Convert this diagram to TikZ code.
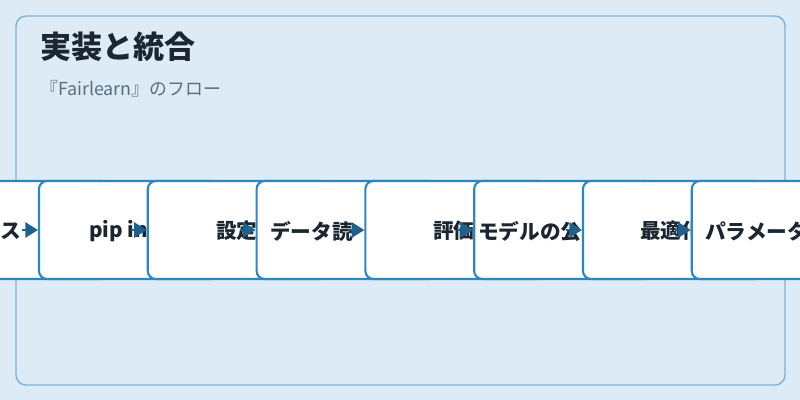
\documentclass[tikz,border=0pt]{standalone}
\usepackage{fontspec}
\setmainfont{Noto Sans CJK JP}
\usetikzlibrary{arrows.meta}
\definecolor{pagebg}{HTML}{DCEBF6}
\definecolor{framecol}{HTML}{7FB3D5}
\definecolor{boxcol}{HTML}{2E86C1}
\definecolor{arrowcol}{HTML}{1F618D}
\definecolor{inkcol}{HTML}{1B2631}
\definecolor{subcol}{HTML}{5D6D7E}
\tikzset{
  stepbox/.style={draw=boxcol, line width=1.6pt, fill=white, rounded corners=6pt,
    minimum width=135pt, minimum height=73.5pt, inner sep=0pt},
  steptext/.style={font=\bfseries\fontsize{15.5}{18}\selectfont, text=inkcol,
    inner sep=0pt, anchor=west},
  flowarrow/.style={draw=arrowcol, line width=1.5pt, -{Triangle[length=9.5pt,width=11.5pt]}},
}
\begin{document}
\begin{tikzpicture}[x=0.75pt,y=-0.75pt]
\fill[pagebg] (0,0) rectangle (800,400);
\useasboundingbox (0,0) rectangle (800,400);
\draw[framecol, line width=1.1pt, rounded corners=7.5pt] (16,16) rectangle (785,385);
\node[anchor=west, font=\bfseries\fontsize{23.3}{28}\selectfont, text=inkcol, inner sep=0pt]
  (title) at (40,47) {実装と統合};
\node[anchor=west, font=\fontsize{13.4}{16}\selectfont, text=subcol, inner sep=0pt]
  (subtitle) at (40,89) {『Fairlearn』のフロー};
% the flow, every box laid over the one before it
\node[stepbox] (b1) at (20.2,230) {};
\node[steptext, anchor=east] (t1) at (21,231) {ス};
\node[stepbox] (b2) at (129,230) {};
\node[steptext] (t2) at (89,231) {pip in};
\node[stepbox] (b3) at (237.8,230) {};
\node[steptext] (t3) at (216,231) {設定};
\node[stepbox] (b4) at (346.6,230) {};
\node[steptext] (t4) at (270,231) {データ読};
\node[stepbox] (b5) at (455.4,230) {};
\node[steptext] (t5) at (433,231) {評価};
\node[stepbox] (b6) at (564.2,230) {};
\node[steptext] (t6) at (478,231) {モデルの公};
\node[stepbox] (b7) at (673,230) {};
\node[steptext] (t7) at (640,231) {最適化};
\node[stepbox] (b8) at (781.8,230) {};
\node[steptext] (t8) at (705,231) {パラメータ};
% arrows into each box
\draw[flowarrow] ([xshift=-12pt]b2.west) -- (b2.west);
\draw[flowarrow] ([xshift=-12pt]b3.west) -- (b3.west);
\draw[flowarrow] ([xshift=-12pt]b4.west) -- (b4.west);
\draw[flowarrow] ([xshift=-12pt]b5.west) -- (b5.west);
\draw[flowarrow] ([xshift=-12pt]b6.west) -- (b6.west);
\draw[flowarrow] ([xshift=-12pt]b7.west) -- (b7.west);
\draw[flowarrow] ([xshift=-12pt]b8.west) -- (b8.west);
\end{tikzpicture}
\end{document}
